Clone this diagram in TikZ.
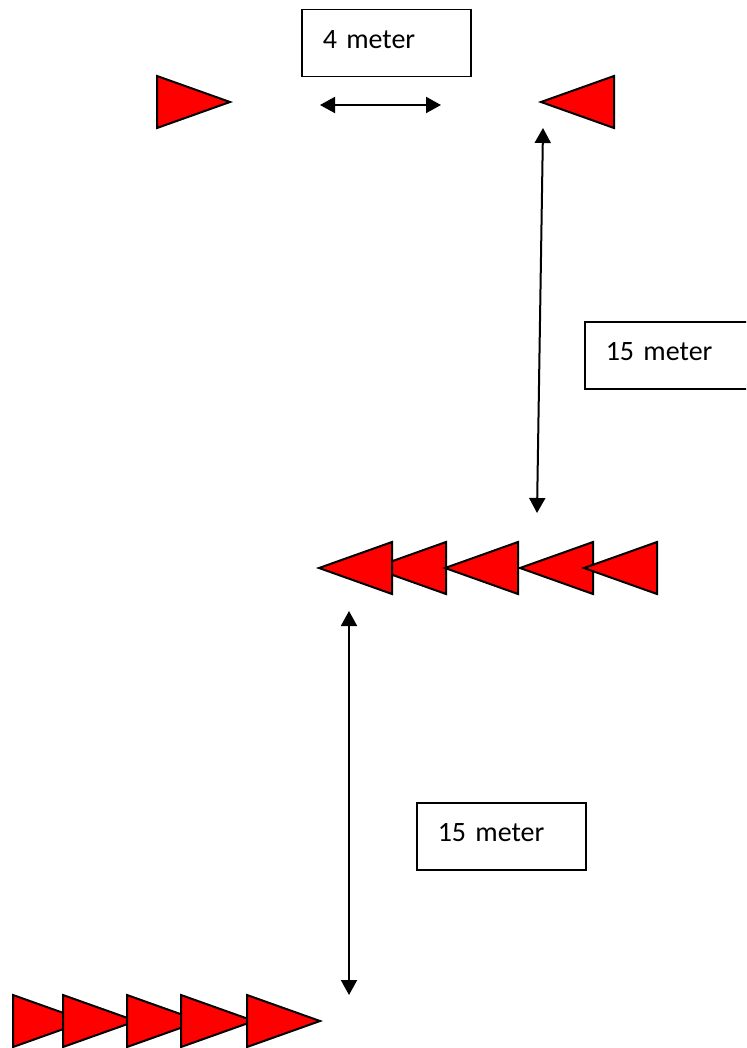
\documentclass[tikz,border=0pt]{standalone}
\usepackage{fontspec}
\setmainfont{Carlito}
\usetikzlibrary{arrows.meta}

\begin{document}
\begin{tikzpicture}[x=1pt, y=-1pt,
cone/.pic={\path[draw=black, fill=red, line width=2pt] (0,-26) -- (73,0) -- (0,26) -- cycle;},
meter/.style={rectangle, draw, line width=1.5pt, anchor=north west, minimum width=169pt, minimum height=67pt, inner xsep=21pt, inner ysep=0pt, text width=127pt, align=left, text height=18pt, text depth=8pt, font=\fontsize{28}{34}\selectfont},
dist/.style={{Triangle[length=15pt,width=16pt]}-{Triangle[length=15pt,width=16pt]}, line width=2pt}]

\clip (0,0) rectangle (746,1048);

% start and turn cones
\pic at (157,102) {cone};
\pic[rotate=180] at (614,102) {cone};

% middle row, pointing left
\foreach \x in {446,518,593,657,392}
	\pic[rotate=180] at (\x,568) {cone};

% bottom row, pointing right
\foreach \x in {13,63,127,181,247}
	\pic at (\x,1021) {cone};

\node[meter] (m4) at (301,9) {4 meter};
\node[meter] (m15a) at (584,321) {15 meter};
\node[meter] (m15b) at (416,802) {15 meter};

\coordinate (wL) at (320,105);
\coordinate (wR) at (441,105);
\coordinate (aT) at (543,128);
\coordinate (aB) at (537,513);
\coordinate (bT) at (349,611);
\coordinate (bB) at (349,995);

\draw[dist] (wL) -- (wR);
\draw[dist] (aT) -- (aB);
\draw[dist] (bT) -- (bB);
\end{tikzpicture}
\end{document}
